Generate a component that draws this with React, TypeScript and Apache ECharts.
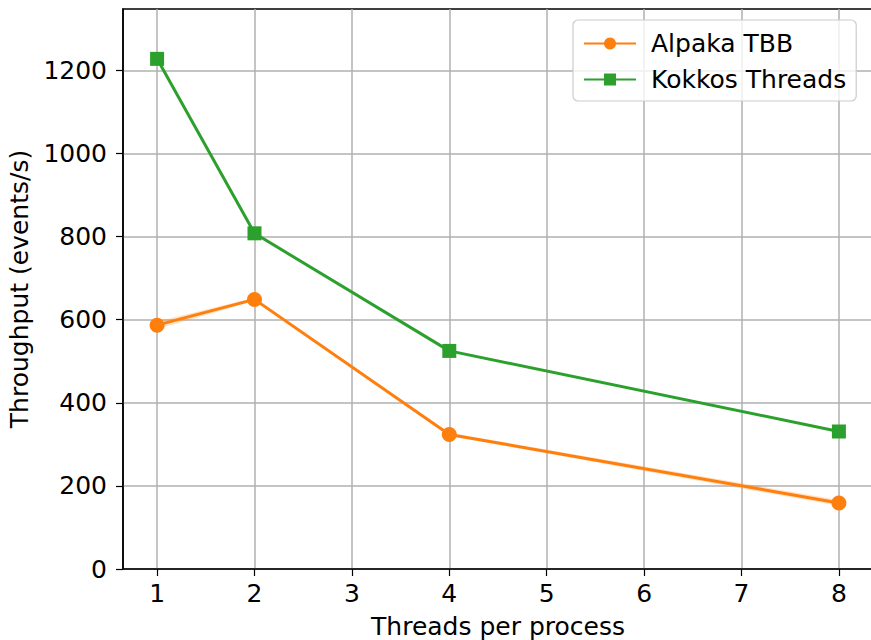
import React, { useEffect, useRef } from "react";
import * as echarts from "echarts";

const threads = [1, 2, 4, 8];
const alpakaTBB = [587, 649, 324, 159];
const alpakaLow = [578, 645, 320, 152];
const alpakaHigh = [596, 653, 328, 166];
const kokkosThreads = [1228, 808, 525, 331];
const xTicks = [1, 2, 3, 4, 5, 6, 7, 8];
const yTicks = [0, 200, 400, 600, 800, 1000, 1200];

const FONT = "DejaVu Sans";
const FS = 25;

export default function App() {
  const ref = useRef<HTMLDivElement>(null);
  useEffect(() => {
    const chart = echarts.init(ref.current!, null, { renderer: "svg" });
    const pairs = (ys: number[]) => threads.map((x, i) => [x, ys[i]]);
    chart.setOption({
      animation: false,
      backgroundColor: "#ffffff",
      grid: {
        left: 123,
        top: 9,
        width: 750,
        height: 560,
        outerBoundsMode: "none",
        containLabel: false,
        show: true,
        borderColor: "#000",
        borderWidth: 1.5,
        backgroundColor: "transparent",
      },
      legend: {
        left: 573,
        top: 20,
        orient: "vertical",
        itemWidth: 52,
        itemHeight: 15,
        itemGap: 11,
        padding: [11, 10, 9, 10],
        backgroundColor: "rgba(255,255,255,0.8)",
        borderColor: "#cccccc",
        borderWidth: 1.2,
        borderRadius: 5,
        textStyle: { fontFamily: FONT, fontSize: FS, color: "#000", padding: [0, 0, 0, 10] },
        data: ["Alpaka TBB", "Kokkos Threads"],
      },
      xAxis: {
        type: "value",
        min: 0.65,
        max: 8.35,
        name: "Threads per process",
        nameLocation: "middle",
        nameGap: 45,
        nameTextStyle: { fontFamily: FONT, fontSize: FS, color: "#000" },
        axisLine: { show: true, lineStyle: { color: "#000", width: 1.5 } },
        axisTick: { show: true, inside: false, length: 7, customValues: xTicks, lineStyle: { color: "#000", width: 1.2 } },
        axisLabel: { customValues: xTicks, margin: 12, fontFamily: FONT, fontSize: FS, color: "#000", formatter: (v: number) => String(v) },
        splitLine: { show: true, lineStyle: { color: "#b0b0b0", width: 1.5 } },
      },
      yAxis: {
        type: "value",
        min: 0,
        max: 1348,
        name: "Throughput (events/s)",
        nameLocation: "middle",
        nameGap: 89,
        nameTextStyle: { fontFamily: FONT, fontSize: FS, color: "#000" },
        axisLine: { show: true, lineStyle: { color: "#000", width: 1.5 } },
        axisTick: { show: true, inside: false, length: 7, customValues: yTicks, lineStyle: { color: "#000", width: 1.2 } },
        axisLabel: { customValues: yTicks, margin: 16, fontFamily: FONT, fontSize: FS, color: "#000", formatter: (v: number) => String(v) },
        splitLine: { show: true, lineStyle: { color: "#b0b0b0", width: 1.5 } },
      },
      series: [
        {
          name: "band",
          type: "custom",
          silent: true,
          z: 1,
          data: [0],
          renderItem: (params: any, api: any) => {
            const upper = threads.map((x, i) => api.coord([x, alpakaHigh[i]]));
            const lower = threads.map((x, i) => api.coord([x, alpakaLow[i]])).reverse();
            return {
              type: "polygon",
              shape: { points: upper.concat(lower) },
              style: { fill: "rgba(255,127,14,0.25)", stroke: "none" },
            };
          },
        },
        {
          name: "Alpaka TBB",
          type: "line",
          data: pairs(alpakaTBB),
          symbol: "circle",
          symbolSize: 15,
          color: "#ff7f0e",
          lineStyle: { color: "#ff7f0e", width: 3 },
          itemStyle: { color: "#ff7f0e" },
          z: 3,
        },
        {
          name: "Kokkos Threads",
          type: "line",
          data: pairs(kokkosThreads),
          symbol: "rect",
          symbolSize: 14,
          color: "#2ca02c",
          lineStyle: { color: "#2ca02c", width: 3 },
          itemStyle: { color: "#2ca02c" },
          z: 3,
        },
      ],
    });
    return () => chart.dispose();
  }, []);
  return (
    <div
      ref={ref}
      style={{ position: "fixed", left: 0, top: 0, width: 871, height: 640 }}
    />
  );
}
